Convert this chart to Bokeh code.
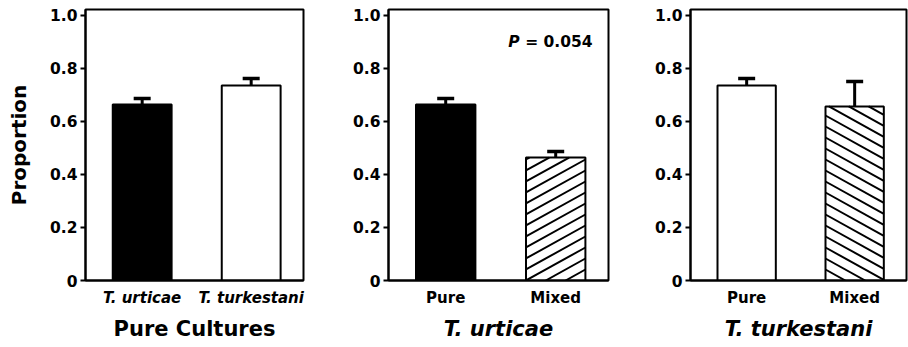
import numpy as np
from bokeh.plotting import figure
from bokeh.layouts import row
from bokeh.models import (FixedTicker, CustomJSTickFormatter, Whisker, TeeHead,
                          ColumnDataSource, Range1d)
from bokeh.core.properties import value
from bokeh.embed import file_html
from bokeh.resources import INLINE

FONT = "DejaVu Sans"

# ---------------- data ----------------
panel_titles = ["Pure Cultures", "T. urticae", "T. turkestani"]
panel1_labels = ["T. urticae", "T. turkestani"]
panel1_values = [0.664, 0.736]
panel1_errors = [0.023, 0.026]
panel2_labels = ["Pure", "Mixed"]
panel2_values = [0.664, 0.464]
panel2_errors = [0.023, 0.023]
panel3_labels = ["Pure", "Mixed"]
panel3_values = [0.736, 0.657]
panel3_errors = [0.026, 0.094]
panel2_p_value = 0.054
y_ticks = [0, 0.2, 0.4, 0.6, 0.8, 1.0]

# ---------------- layout constants ----------------
X_POS = [1, 2]
X_RANGE = (0.48, 2.48)
Y_RANGE = (0, 1.0226)
BAR_W = 0.54
FRAME_H = 271


def hatch_segments(xc, top, width, direction, sx, sy, spacing=11.0, angle=29.0):
    """Diagonal hatch lines clipped to a bar, computed in screen pixels."""
    m = np.tan(np.radians(angle))
    wb = width * sx
    hb = top * sy
    xl = xc - width / 2.0
    x0s, y0s, x1s, y1s = [], [], [], []
    for b in np.arange(-m * wb, hb + spacing, spacing):
        xs = max(0.0, -b / m)
        xe = min(wb, (hb - b) / m)
        if xe - xs < 0.5:
            continue
        ys, ye = m * xs + b, m * xe + b
        if direction < 0:
            xs, xe = wb - xs, wb - xe
        x0s.append(xl + xs / sx)
        x1s.append(xl + xe / sx)
        y0s.append(ys / sy)
        y1s.append(ye / sy)
    return x0s, y0s, x1s, y1s


def make_panel(values, errors, labels, title, fills, hatches, title_style,
               tick_style, ml, fw, mr, ylabel=None):
    p = figure(frame_width=fw, frame_height=FRAME_H, x_range=Range1d(*X_RANGE),
               y_range=Range1d(*Y_RANGE), output_backend="svg",
               toolbar_location=None, title=None,
               min_border_left=ml, min_border_right=mr, min_border_top=9,
               min_border_bottom=56)
    p.grid.visible = False
    p.outline_line_color = "black"
    p.outline_line_width = 2
    p.background_fill_color = "white"
    p.border_fill_color = "white"

    sx = fw / (X_RANGE[1] - X_RANGE[0])
    sy = FRAME_H / (Y_RANGE[1] - Y_RANGE[0])

    src = ColumnDataSource(dict(x=X_POS, top=values, fill=fills))
    p.vbar(x="x", top="top", width=BAR_W, fill_color="fill", line_color=None,
           source=src)
    for xc, v, h in zip(X_POS, values, hatches):
        if h == 0:
            continue
        x0, y0, x1, y1 = hatch_segments(xc, v, BAR_W, h, sx, sy)
        p.segment(x0=x0, y0=y0, x1=x1, y1=y1, line_color="black", line_width=2)
    p.vbar(x="x", top="top", width=BAR_W, fill_color=None, line_color="black",
           line_width=2, source=src)

    upper = [v + e for v, e in zip(values, errors)]
    esrc = ColumnDataSource(dict(base=X_POS, lower=values, upper=upper))
    w = Whisker(source=esrc, base="base", lower="lower", upper="upper",
                dimension="height", line_color="black", line_width=3,
                lower_head=None,
                upper_head=TeeHead(size=17, line_width=3.5, line_color="black"))
    p.add_layout(w)

    # y axis
    ya = p.yaxis[0]
    ya.ticker = FixedTicker(ticks=y_ticks)
    ya.formatter = CustomJSTickFormatter(
        code="return tick == 0 ? '0' : tick.toFixed(1);")
    ya.major_tick_in = 0
    ya.major_tick_out = 5
    ya.major_tick_line_width = 2
    ya.minor_tick_line_color = None
    ya.axis_line_width = 2
    ya.major_label_text_font = FONT
    ya.major_label_text_font_size = "15.5px"
    ya.major_label_text_font_style = "bold"
    ya.major_label_text_color = "black"
    ya.major_label_standoff = 3
    if ylabel:
        ya.axis_label = ylabel
        ya.axis_label_text_font = FONT
        ya.axis_label_text_font_size = "20px"
        ya.axis_label_text_font_style = "bold"
        ya.axis_label_text_color = "black"
        ya.axis_label_standoff = 16

    # x axis
    xa = p.xaxis[0]
    xa.ticker = FixedTicker(ticks=X_POS)
    xa.major_label_overrides = {X_POS[0]: labels[0], X_POS[1]: labels[1]}
    xa.major_tick_line_color = None
    xa.major_tick_in = 0
    xa.major_tick_out = 0
    xa.minor_tick_line_color = None
    xa.axis_line_width = 2
    xa.major_label_standoff = 8
    xa.major_label_text_font = FONT
    xa.major_label_text_font_size = "15px"
    xa.major_label_text_font_style = tick_style
    xa.major_label_text_color = "black"
    xa.axis_label = title
    xa.axis_label_text_font = FONT
    xa.axis_label_text_font_size = "21px"
    xa.axis_label_text_font_style = title_style
    xa.axis_label_text_color = "black"
    xa.axis_label_standoff = 7
    return p


p1 = make_panel(panel1_values, panel1_errors, panel1_labels, panel_titles[0],
                ["black", "white"], [0, 0], "bold", "bold italic",
                85, 218, 3, ylabel="Proportion")
p2 = make_panel(panel2_values, panel2_errors, panel2_labels, panel_titles[1],
                ["black", "white"], [0, 1], "bold italic", "bold",
                82, 220, 3)
p3 = make_panel(panel3_values, panel3_errors, panel3_labels, panel_titles[2],
                ["white", "white"], [0, -1], "bold italic", "bold",
                79, 216, 2)

# P-value annotation in panel 2
p2.text(x=[2.335], y=[0.90], text=["= %.3f" % panel2_p_value],
        text_align="right", text_baseline="middle",
        text_font=value(FONT), text_font_style="bold",
        text_font_size="15.5px", text_color="black")
p2.text(x=[2.335], y=[0.90], text=["P"], x_offset=-73,
        text_align="right", text_baseline="middle",
        text_font=value(FONT), text_font_style="bold italic",
        text_font_size="15.5px", text_color="black")

layout = row(p1, p2, p3)
open("out.html", "w").write(file_html(layout, INLINE))
